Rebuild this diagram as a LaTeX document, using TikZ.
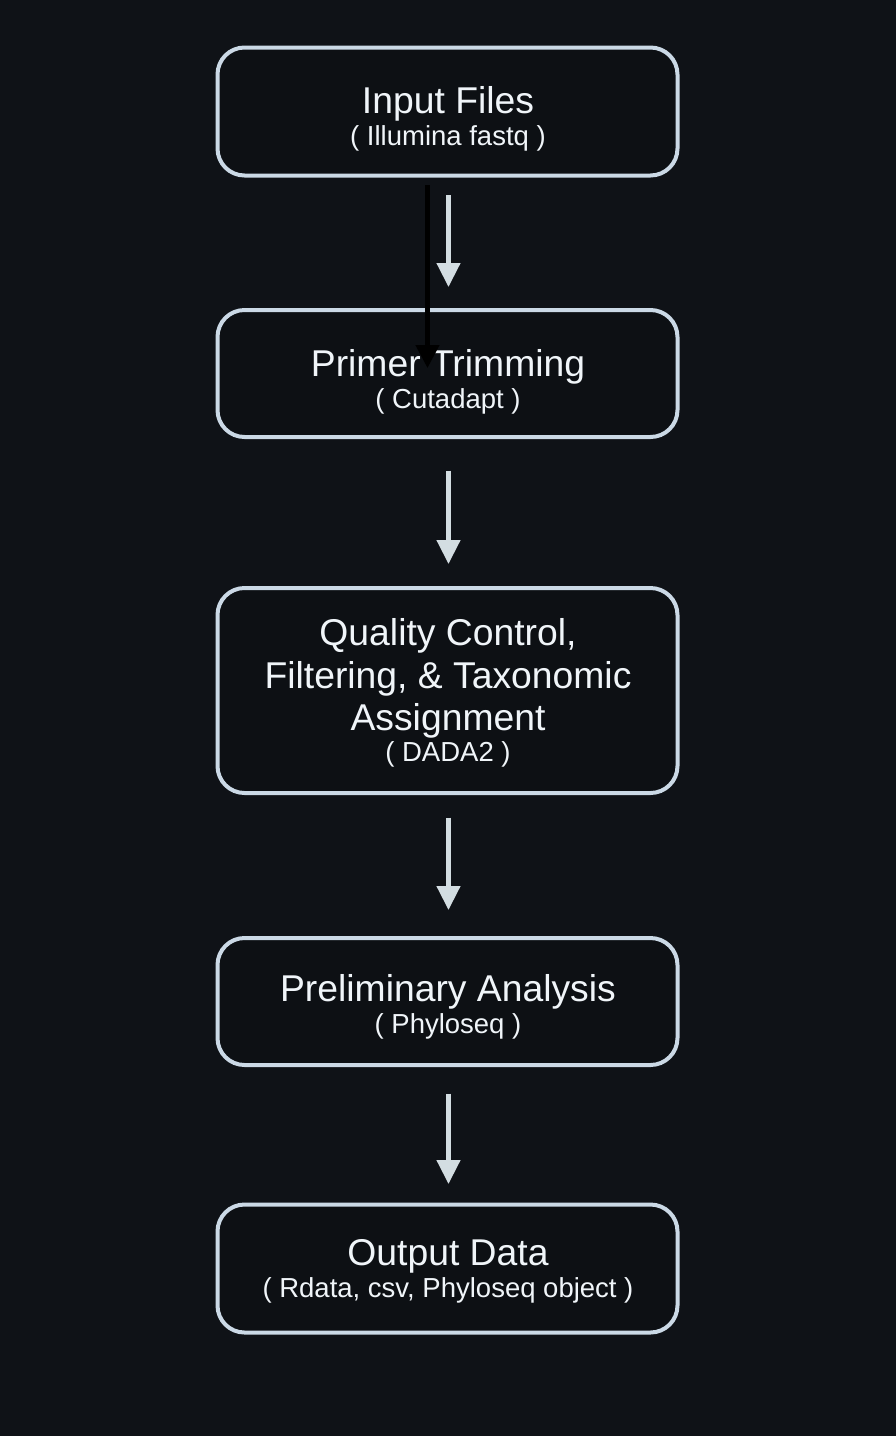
\documentclass[tikz,border=0pt]{standalone}
\usepackage{fontspec}
\setmainfont{Liberation Sans}
\usetikzlibrary{arrows.meta}
\definecolor{bgc}{HTML}{0F1217}
\definecolor{fillc}{HTML}{0D1014}
\definecolor{borderc}{HTML}{CBD9E6}
\definecolor{arrowc}{HTML}{D3DDE2}
\definecolor{textc}{HTML}{F0F5F9}
\tikzset{
  stagebox/.style={draw=borderc, fill=fillc, line width=4pt, rounded corners=27pt,
    minimum width=460pt, inner sep=0pt},
  titletext/.style={anchor=base, inner sep=0pt, text=textc, font=\fontsize{37.3}{42}\selectfont},
  subtext/.style={anchor=base, inner sep=0pt, text=textc, font=\fontsize{27.5}{32}\selectfont},
  flowarrow/.style={draw=arrowc, line width=4.5pt, -{Triangle[width=23pt,length=24pt]}},
  strayarrow/.style={draw=black, line width=4.5pt, -{Triangle[width=23pt,length=23pt]}}
}
\begin{document}
\begin{tikzpicture}[x=1pt,y=-1pt]
\fill[bgc] (0,0) rectangle (896,1436);
\useasboundingbox (0,0) rectangle (896,1436);

\node[stagebox, minimum height=128pt] (b1) at (447.5,111.5) {};
\node[stagebox, minimum height=127pt] (b2) at (447.5,373.5) {};
\node[stagebox, minimum height=205pt] (b3) at (447.5,690.5) {};
\node[stagebox, minimum height=127pt] (b4) at (447.5,1001.5) {};
\node[stagebox, minimum height=128pt] (b5) at (447.5,1268.5) {};

\node[titletext] (t1) at (448,113) {Input Files};
\node[subtext] (s1) at (448,145) {( Illumina fastq )};

\node[titletext] (t2) at (448,376.5) {Primer Trimming};
\node[subtext] (s2) at (448,408) {( Cutadapt )};

\node[titletext] (t3a) at (448,645) {Quality Control,};
\node[titletext] (t3b) at (448,688) {Filtering, \& Taxonomic};
\node[titletext] (t3c) at (448,730) {Assignment};
\node[subtext] (s3) at (448,761.5) {( DADA2 )};

\node[titletext] (t4) at (448,1001) {Preliminary Analysis};
\node[subtext] (s4) at (448,1033) {( Phyloseq )};

\node[titletext] (t5) at (448,1265) {Output Data};
\node[subtext] (s5) at (448,1297) {( Rdata, csv, Phyloseq object )};

\draw[flowarrow, shorten <=17.5pt, shorten >=21pt] ([xshift=1pt]b1.south) -- ([xshift=1pt]b2.north);
\draw[flowarrow, shorten <=31.5pt, shorten >=22pt] ([xshift=1pt]b2.south) -- ([xshift=1pt]b3.north);
\draw[flowarrow, shorten <=22.5pt, shorten >=26pt] ([xshift=1pt]b3.south) -- ([xshift=1pt]b4.north);
\draw[flowarrow, shorten <=26.5pt, shorten >=18.5pt] ([xshift=1pt]b4.south) -- ([xshift=1pt]b5.north);

\coordinate (strayend) at (427.5,368);
\draw[strayarrow, shorten <=7.5pt] ([xshift=-20pt]b1.south) -- (strayend);
\end{tikzpicture}
\end{document}
